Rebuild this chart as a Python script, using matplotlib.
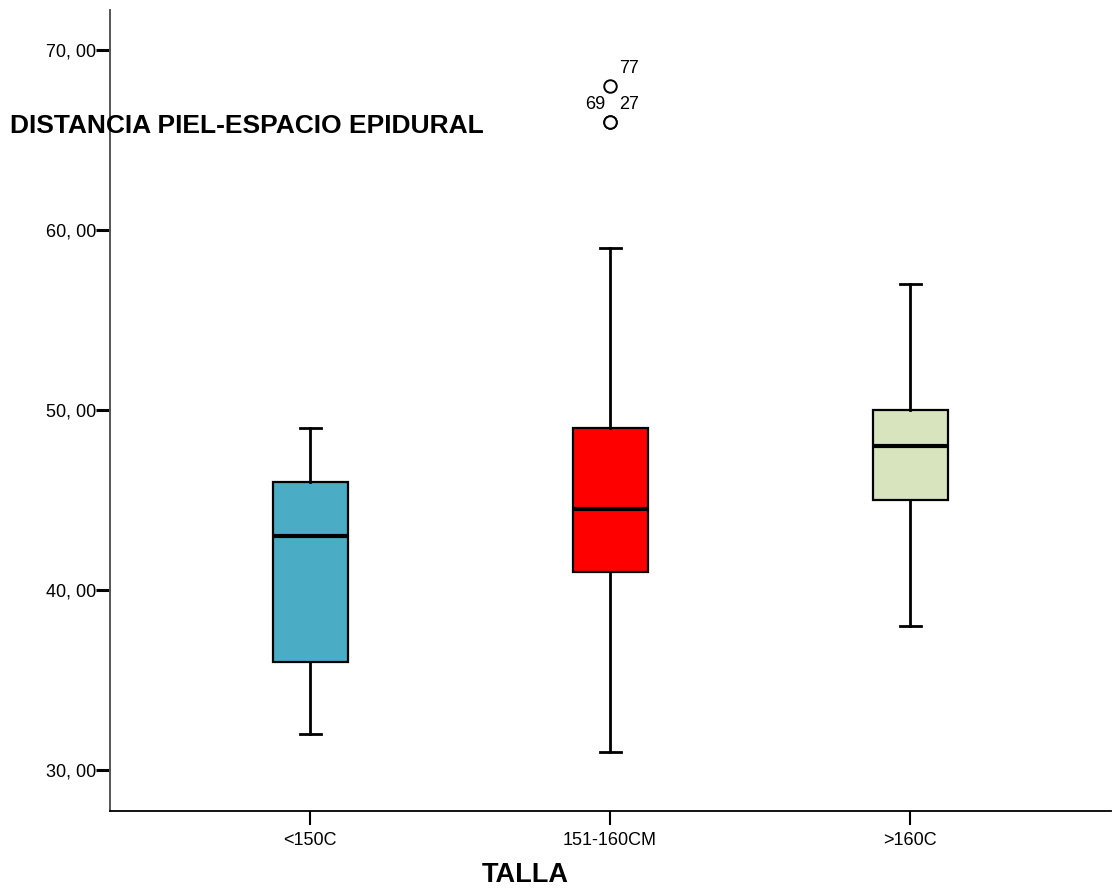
import matplotlib
matplotlib.use("Agg")
import matplotlib.pyplot as plt

plt.rcParams['font.family'] = ['Liberation Sans', 'DejaVu Sans']

categories = ["<150C", "151-160CM", ">160C"]
whisker_low = [32, 31, 38]
q1 = [36, 41, 45]
median = [43, 44.5, 48]
q3 = [46, 49, 50]
whisker_high = [49, 59, 57]
outliers = [[], [66, 66, 68], []]
outlier_labels = [[], ["69", "27", "77"], []]
colors = ["#4BACC6", "#FF0000", "#D7E4BD"]
yticks = [30, 40, 50, 60, 70]
ytick_labels = ["30, 00", "40, 00", "50, 00", "60, 00", "70, 00"]

fig = plt.figure(figsize=(11.14, 8.89), dpi=100)
ax = fig.add_axes([110/1114, 1 - 811/889, (1111-110)/1114, (811-10)/889])

stats = []
for i, c in enumerate(categories):
    stats.append(dict(label=c, whislo=whisker_low[i], q1=q1[i], med=median[i],
                      q3=q3[i], whishi=whisker_high[i], fliers=outliers[i]))
positions = [1, 2, 3]
bp = ax.bxp(stats, positions=positions, widths=0.25, patch_artist=True,
            boxprops=dict(linewidth=1.6, edgecolor="black"),
            medianprops=dict(color="black", linewidth=3),
            whiskerprops=dict(color="black", linewidth=2),
            capprops=dict(color="black", linewidth=2),
            flierprops=dict(marker="o", markerfacecolor="white", markeredgecolor="black",
                            markersize=9, markeredgewidth=1.4),
            capwidths=0.07, manage_ticks=False)
for patch, col in zip(bp['boxes'], colors):
    patch.set_facecolor(col)

# outlier case labels (points offsets)
for i, (vals, labs) in enumerate(zip(outliers, outlier_labels)):
    counts = {v: vals.count(v) for v in vals}
    seen = {}
    for v, lab in zip(vals, labs):
        k = seen.get(v, 0)
        if counts[v] > 1 and k == 0:
            ax.annotate(lab, (positions[i], v), xytext=(-3, 9.4), textcoords="offset points",
                        ha="right", va="baseline", fontsize=13)
        else:
            ax.annotate(lab, (positions[i], v), xytext=(6.5, 9.4), textcoords="offset points",
                        ha="left", va="baseline", fontsize=13)
        seen[v] = k + 1

ax.set_xlim(0.3333, 3 + (1111 - 910) / 300)
ax.set_ylim(30 - 41/18, 70 + 40/18)
ax.set_xticks(positions)
ax.set_xticklabels(categories, fontsize=13)
ax.set_yticks(yticks)
ax.set_yticklabels(ytick_labels, fontsize=13)
ax.tick_params(axis='y', direction='out', length=10, width=2.2, pad=0)
ax.tick_params(axis='x', direction='out', length=10, width=1.5, pad=5)
for s in ['top', 'right']:
    ax.spines[s].set_visible(False)
ax.spines['left'].set_linewidth(1.4)
ax.spines['left'].set_color("#555555")
ax.spines['bottom'].set_linewidth(1.3)

fig.text(10/1114, 1 - 133/889, "DISTANCIA PIEL-ESPACIO EPIDURAL", fontsize=19,
         fontweight="bold", ha="left", va="baseline")
fig.text(525/1114, 1 - 882/889, "TALLA", fontsize=19.5, fontweight="bold",
         ha="center", va="baseline")

fig.savefig("out.png", dpi=100)
